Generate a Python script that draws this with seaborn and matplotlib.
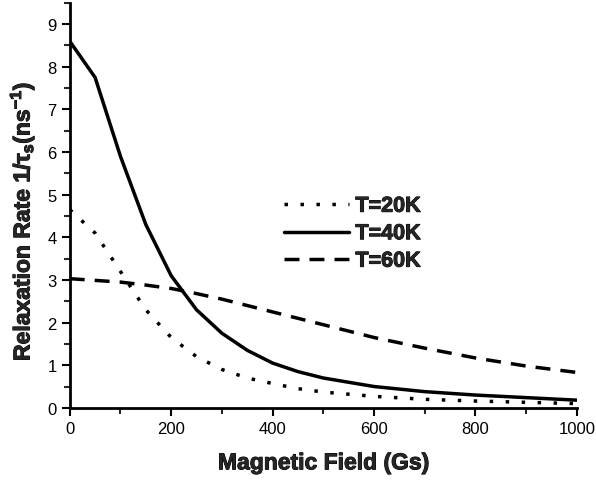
import matplotlib
matplotlib.use("Agg")
import matplotlib.pyplot as plt
import matplotlib.patheffects as pe
import pandas as pd
import seaborn as sns
from matplotlib.ticker import MultipleLocator

field = [0, 50, 100, 150, 200, 250, 300, 350, 400, 450, 500, 600, 700, 800, 900, 1000]
rate_20k = [4.65, 4.1, 3.2, 2.3, 1.65, 1.2, 0.9, 0.7, 0.57, 0.45, 0.37, 0.27, 0.2, 0.16, 0.13, 0.1]
rate_40k = [8.6, 7.75, 5.9, 4.3, 3.1, 2.3, 1.75, 1.35, 1.05, 0.85, 0.7, 0.5, 0.38, 0.3, 0.24, 0.18]
rate_60k = [3.03, 2.99, 2.95, 2.88, 2.8, 2.68, 2.55, 2.4, 2.25, 2.1, 1.95, 1.65, 1.4, 1.17, 0.98, 0.83]
labels = ["T=20K", "T=40K", "T=60K"]

df = pd.DataFrame({"field": field * 3,
                   "rate": rate_20k + rate_40k + rate_60k,
                   "T": [labels[0]] * len(field) + [labels[1]] * len(field) + [labels[2]] * len(field)})

sns.set_style("ticks")
plt.rcParams["font.family"] = ["Liberation Sans", "DejaVu Sans"]
plt.rcParams["mathtext.fontset"] = "custom"
plt.rcParams["mathtext.rm"] = "Liberation Sans:bold"
plt.rcParams["mathtext.it"] = "Liberation Sans:bold"
plt.rcParams["mathtext.bf"] = "Liberation Sans:bold"

fig = plt.figure(figsize=(5.96, 4.81), dpi=100)
ax = fig.add_axes([0.117, 0.150, 0.851, 0.842])

styles = {labels[0]: (0, (1, 3.6)), labels[1]: "-", labels[2]: (0, (4.3, 2.9))}
for lab in labels:
    sub = df[df["T"] == lab]
    sns.lineplot(data=sub, x="field", y="rate", ax=ax, color="black", lw=2.5,
                 linestyle=styles[lab], label=lab)

ax.set_xlim(0, 1000)
ax.set_ylim(0, 9.5)
ax.xaxis.set_major_locator(MultipleLocator(200))
ax.xaxis.set_minor_locator(MultipleLocator(100))
ax.yaxis.set_major_locator(MultipleLocator(1))
ax.yaxis.set_minor_locator(MultipleLocator(0.5))
ax.tick_params(which="major", direction="out", length=6, width=1.5, labelsize=12, colors="black")
ax.tick_params(which="minor", direction="out", length=4, width=1.5)
for s in ["top", "right"]:
    ax.spines[s].set_visible(False)
for s in ["left", "bottom"]:
    ax.spines[s].set_linewidth(2)
    ax.spines[s].set_color("black")

heavy = [pe.withStroke(linewidth=0.7, foreground="black")]
ax.set_xlabel("Magnetic Field (Gs)", fontsize=16.5, fontweight="bold", labelpad=11,
              path_effects=heavy)
ax.set_ylabel(r"Relaxation Rate 1/$\tau_s$(ns$^{-1}$)", fontsize=16.5, fontweight="bold",
              path_effects=heavy)
ax.yaxis.set_label_coords(-0.065, 0.46)

leg = ax.legend(loc="center left", bbox_to_anchor=(0.385, 0.43), frameon=False,
                prop={"size": 15.5, "weight": "bold"}, handlelength=3.0,
                handletextpad=0.3, labelspacing=0.3)
for t in leg.get_texts():
    t.set_path_effects(heavy)

fig.savefig("out.png", dpi=100)
